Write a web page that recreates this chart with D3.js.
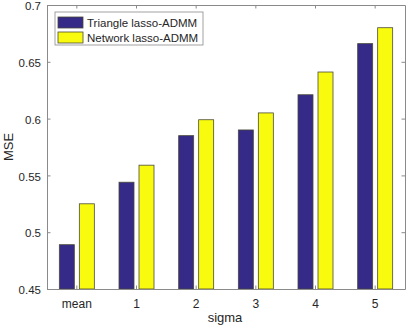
<!DOCTYPE html>
<html>
<head>
<meta charset="utf-8">
<script src="https://cdn.jsdelivr.net/npm/d3@7"></script>
<style>
  html, body { margin: 0; padding: 0; background: #fff; }
  svg { display: block; font-family: "Liberation Sans", Arial, sans-serif; }
</style>
</head>
<body>
<svg id="chart" width="407" height="328"></svg>
<script>
const categories = ['mean', '1', '2', '3', '4', '5']
const seriesNames = ['Triangle lasso-ADMM', 'Network lasso-ADMM']
const triangleVals = [0.489, 0.544, 0.585, 0.590, 0.621, 0.666]
const networkVals = [0.525, 0.559, 0.599, 0.605, 0.641, 0.680]
const yTicks = [0.45, 0.5, 0.55, 0.6, 0.65, 0.7]

const COLORS = ['#352a87', '#f9fb0e']
const AXIS_COLOR = '#8a8a8a'
const TEXT_COLOR = '#262626'
const TICK_LEN = 3.5

const margin = { top: 5, right: 2, bottom: 39, left: 47 }
const width = 407, height = 328
const svg = d3.select('#chart')
const innerW = width - margin.left - margin.right
const innerH = height - margin.top - margin.bottom

const x = d3.scaleBand().domain(categories).range([0, innerW]).paddingInner(0).paddingOuter(0)
const xSub = d3.scaleBand().domain(seriesNames).range([x.bandwidth() / 2 - 17.5, x.bandwidth() / 2 + 17.5]).paddingInner(0.25)
const y = d3.scaleLinear().domain([0.45, 0.7]).range([innerH, 0])

const g = svg.append('g').attr('transform', `translate(${margin.left},${margin.top})`)

const rows = categories.map((c, i) => ({ cat: c, vals: [triangleVals[i], networkVals[i]] }))

// bars
const groups = g.selectAll('g.grp').data(rows).join('g')
  .attr('class', 'grp')
  .attr('transform', d => `translate(${x(d.cat)},0)`)

groups.selectAll('rect')
  .data(d => d.vals.map((v, k) => ({ name: seriesNames[k], v, k })))
  .join('rect')
  .attr('x', d => xSub(d.name))
  .attr('width', xSub.bandwidth())
  .attr('y', d => y(d.v))
  .attr('height', d => y(0.45) - y(d.v))
  .attr('fill', d => COLORS[d.k])
  .attr('stroke', '#4a4a3a')
  .attr('stroke-width', 0.8)

// axes (box with inward ticks)
const axisStyle = sel => {
  sel.select('.domain').attr('stroke', AXIS_COLOR)
  sel.selectAll('.tick line').attr('stroke', AXIS_COLOR)
  sel.selectAll('.tick text').attr('fill', TEXT_COLOR).attr('font-size', 12)
}

g.append('g').attr('transform', `translate(0,${innerH})`)
  .call(d3.axisBottom(x).tickSizeInner(-TICK_LEN).tickSizeOuter(0).tickPadding(10))
  .call(axisStyle)

g.append('g')
  .call(d3.axisTop(x).tickSizeInner(-TICK_LEN).tickSizeOuter(0).tickFormat(''))
  .call(axisStyle)

g.append('g')
  .call(d3.axisLeft(y).tickValues(yTicks).tickFormat(d3.format('')).tickSizeInner(-TICK_LEN).tickSizeOuter(0).tickPadding(6))
  .call(axisStyle)
  .call(s => s.selectAll('.tick text').attr('font-size', 11.5).attr('dy', '0.4em'))

g.append('g').attr('transform', `translate(${innerW},0)`)
  .call(d3.axisRight(y).tickValues(yTicks).tickFormat('').tickSizeInner(-TICK_LEN).tickSizeOuter(0))
  .call(axisStyle)

// axis labels
svg.append('text')
  .attr('x', 225)
  .attr('y', 322)
  .attr('text-anchor', 'middle')
  .attr('font-size', 13)
  .attr('fill', TEXT_COLOR)
  .text('sigma')

svg.append('text')
  .attr('transform', `translate(13,${margin.top + innerH / 2}) rotate(-90)`)
  .attr('text-anchor', 'middle')
  .attr('font-size', 13)
  .attr('fill', TEXT_COLOR)
  .text('MSE')

// legend
const legend = svg.append('g').attr('transform', 'translate(55,12)')
legend.append('rect')
  .attr('width', 148).attr('height', 33)
  .attr('fill', '#fff').attr('stroke', '#8a8a8a').attr('stroke-width', 0.8)

seriesNames.forEach((name, k) => {
  const row = legend.append('g').attr('transform', `translate(3,${5 + k * 15})`)
  row.append('rect')
    .attr('width', 25).attr('height', 11)
    .attr('fill', COLORS[k]).attr('stroke', '#4a4a3a').attr('stroke-width', 0.8)
  row.append('text')
    .attr('x', 29).attr('y', 10)
    .attr('font-size', 11.5)
    .attr('fill', TEXT_COLOR)
    .text(name)
})
</script>
</body>
</html>
